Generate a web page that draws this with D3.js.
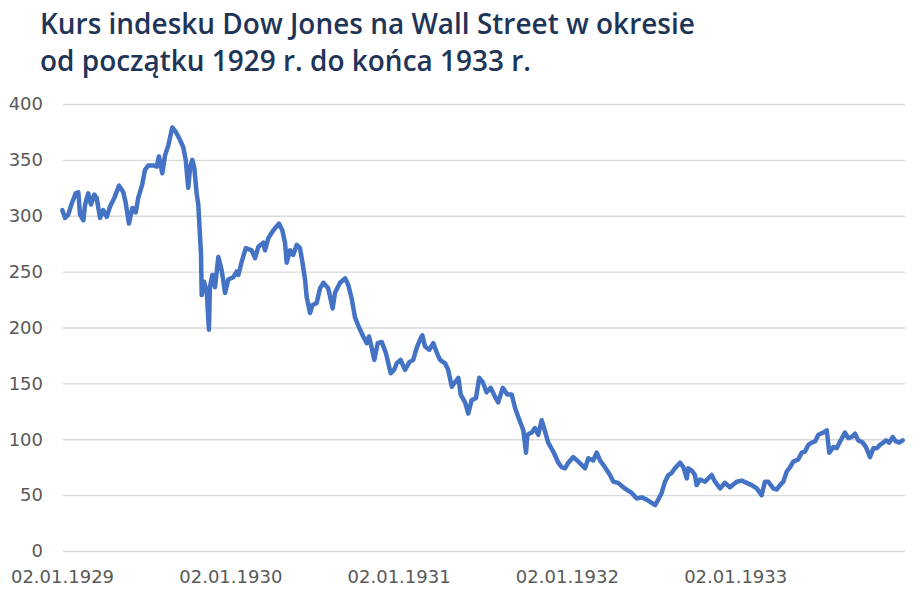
<!DOCTYPE html>
<html>
<head>
<meta charset="utf-8">
<script src="https://cdnjs.cloudflare.com/ajax/libs/d3/7.8.5/d3.min.js"></script>
<style>
  body { margin: 0; background: #fff; }
  svg { display: block; }
</style>
</head>
<body>
<div id="chart"></div>
<script>
// Dow Jones 1929-1933
var titleLines = ["Kurs indesku Dow Jones na Wall Street w okresie", "od początku 1929 r. do końca 1933 r."];

// time as decimal year (1929.0 = 02.01.1929)
var times = [
  1929.002, 1929.018, 1929.037, 1929.058, 1929.081, 1929.097, 1929.107, 1929.127, 1929.137, 1929.156,
  1929.172, 1929.192, 1929.206, 1929.226, 1929.245, 1929.266, 1929.285, 1929.311, 1929.339, 1929.364,
  1929.378, 1929.398, 1929.418, 1929.438, 1929.453, 1929.477, 1929.493, 1929.513, 1929.542, 1929.563,
  1929.576, 1929.596, 1929.612, 1929.632, 1929.655, 1929.676, 1929.701, 1929.721, 1929.735, 1929.750,
  1929.761, 1929.774, 1929.786, 1929.800, 1929.810, 1929.826, 1929.830, 1929.844, 1929.860, 1929.873,
  1929.879, 1929.893, 1929.909, 1929.929, 1929.949, 1929.969, 1929.988,
  1930.018, 1930.038, 1930.048, 1930.068, 1930.092, 1930.127, 1930.147, 1930.166, 1930.196, 1930.206,
  1930.226, 1930.256, 1930.289, 1930.309, 1930.325, 1930.335, 1930.355, 1930.374, 1930.395, 1930.414,
  1930.428, 1930.444, 1930.454, 1930.474, 1930.487, 1930.513, 1930.533, 1930.553, 1930.582, 1930.608,
  1930.622, 1930.652, 1930.682, 1930.701, 1930.721, 1930.741, 1930.765, 1930.790, 1930.811, 1930.824,
  1930.840, 1930.856, 1930.876, 1930.900, 1930.925, 1930.953, 1930.973, 1930.989,
  1931.012, 1931.038, 1931.064, 1931.087, 1931.108, 1931.127, 1931.141, 1931.157, 1931.182, 1931.206,
  1931.226, 1931.246, 1931.276, 1931.295, 1931.316, 1931.335, 1931.355, 1931.369, 1931.395, 1931.414,
  1931.434, 1931.460, 1931.479, 1931.500, 1931.523, 1931.547, 1931.573, 1931.592, 1931.619, 1931.646,
  1931.672, 1931.692, 1931.711, 1931.741, 1931.757, 1931.765, 1931.791, 1931.810, 1931.830, 1931.850,
  1931.870, 1931.889, 1931.919, 1931.949, 1931.969, 1931.989,
  1932.008, 1932.038, 1932.068, 1932.088, 1932.108, 1932.127, 1932.157, 1932.177, 1932.197, 1932.226,
  1932.256, 1932.276, 1932.305, 1932.335, 1932.355, 1932.385, 1932.415, 1932.444, 1932.474, 1932.504,
  1932.524, 1932.543, 1932.563, 1932.583, 1932.603, 1932.623, 1932.642, 1932.672, 1932.692, 1932.712,
  1932.721, 1932.742, 1932.761, 1932.771, 1932.791, 1932.821, 1932.840, 1932.860, 1932.880, 1932.910,
  1932.939, 1932.969,
  1933.009, 1933.039, 1933.068, 1933.098, 1933.128, 1933.157, 1933.177, 1933.197, 1933.226, 1933.247,
  1933.266, 1933.286, 1933.306, 1933.326, 1933.345, 1933.375, 1933.395, 1933.415, 1933.435, 1933.455,
  1933.474, 1933.494, 1933.524, 1933.544, 1933.559, 1933.583, 1933.603, 1933.623, 1933.652, 1933.672,
  1933.692, 1933.712, 1933.731, 1933.758, 1933.777, 1933.801, 1933.821, 1933.841, 1933.860, 1933.880,
  1933.896, 1933.915, 1933.936, 1933.955, 1933.975, 1933.995
];

var values = [
  305, 298, 301, 311, 320, 321, 301, 296, 310, 320,
  310, 319, 316, 298, 305, 299, 308, 316, 327, 321,
  312, 293, 307, 303, 316, 328, 341, 345, 345, 344,
  353, 338, 354, 363, 379, 375, 368, 361, 350, 325,
  343, 350, 343, 320, 310, 265, 229, 241, 232, 198,
  236, 247, 236, 263, 251, 231, 243,
  245, 250, 247, 259, 271, 269, 262, 272, 276, 269,
  280, 287, 293, 287, 276, 258, 269, 265, 274, 271,
  259, 243, 227, 213, 220, 222, 235, 240, 235, 217,
  231, 240, 244, 238, 226, 209, 200, 192, 186, 192,
  182, 171, 186, 187, 177, 159, 162, 168,
  171, 162, 169, 171, 182, 189, 193, 183, 180, 186,
  178, 171, 168, 162, 147, 151, 155, 140, 133, 123,
  135, 137, 155, 151, 142, 146, 138, 133, 146, 140,
  140, 128, 120, 108, 88, 104, 106, 110, 104, 117,
  107, 97, 89, 79, 75, 74,
  79, 84, 80, 77, 74, 83, 81, 88, 81, 75,
  68, 62, 61, 57, 55, 52, 47, 48, 46, 43,
  41, 46, 52, 62, 68, 70, 74, 79, 75, 65,
  74, 72, 68, 59, 64, 62, 65, 68, 62, 56,
  61, 57,
  62, 63, 61, 59, 56, 50, 62, 62, 56, 55,
  59, 62, 71, 75, 80, 82, 88, 89, 95, 97,
  98, 104, 106, 108, 88, 93, 92, 98, 106, 101,
  102, 105, 99, 97, 93, 84, 92, 92, 95, 97,
  99, 97, 102, 98, 97, 99
];

var yTicks = [0, 50, 100, 150, 200, 250, 300, 350, 400];
var xTicks = [1929, 1930, 1931, 1932, 1933];
var xTickLabels = ["02.01.1929", "02.01.1930", "02.01.1931", "02.01.1932", "02.01.1933"];

var width = 920, height = 599;

var svg = d3.select("#chart").append("svg")
  .attr("width", width)
  .attr("height", height)

//title, squeezed horizontally to the reference width
var title = svg.append("g")
  .attr("class", "title")

titleLines.forEach(function(t, i) {
  title.append("text")
    .attr("x", 0)
    .attr("y", 0)
    .attr("transform", "translate(40," + (34 + i * 36.5) + ")")
    .style("font-family", "'Open Sans', 'DejaVu Sans', sans-serif")
    .style("font-size", "29px")
    .style("font-weight", "600")
    .style("fill", "#1f3558")
    .text(t)
})
var firstW = title.select("text").node().getComputedTextLength()
var sx = 655 / firstW
title.selectAll("text")
  .attr("transform", function(d, i) { return "translate(40," + (34 + i * 36.5) + ") scale(" + sx + ",1)"; })

//scales
var x = d3.scaleLinear()
  .domain([1929, 1934])
  .range([62, 903.5]);

var y = d3.scaleLinear()
  .domain([0, 400])
  .range([551, 104]);

//gridlines
svg.append("g")
  .attr("class", "grid")
  .attr("transform", "translate(905,0)")
  .call(d3.axisLeft(y)
    .tickValues(yTicks)
    .tickSize(905 - 63)
    .tickFormat(""))
  .call(function(g) { g.select(".domain").remove(); })
  .selectAll("line")
  .style("stroke", "#d9d9d9")
  .style("stroke-width", "1.3px")

//y axis labels
svg.append("g")
  .attr("class", "y axis")
  .attr("transform", "translate(43,0)")
  .call(d3.axisLeft(y)
    .tickValues(yTicks)
    .tickSize(0)
    .tickPadding(0))
  .call(function(g) { g.select(".domain").remove(); })
  .selectAll("text")
  .style("font-family", "'DejaVu Sans', sans-serif")
  .style("font-size", "18px")
  .style("fill", "#595959")

//x axis labels
svg.append("g")
  .attr("class", "x axis")
  .attr("transform", "translate(0,570)")
  .call(d3.axisBottom(x)
    .tickValues(xTicks)
    .tickSize(0)
    .tickPadding(0)
    .tickFormat(function(d, i) { return xTickLabels[i]; }))
  .call(function(g) { g.select(".domain").remove(); })
  .selectAll("text")
  .style("font-family", "'DejaVu Sans', sans-serif")
  .style("font-size", "18px")
  .style("fill", "#595959")

//the line
var series = times.map(function(t, i) { return {t: t, v: values[i]}; })

svg.append("path")
  .datum(series)
  .attr("fill", "none")
  .attr("stroke", "#4472c4")
  .attr("stroke-width", 4.5)
  .attr("stroke-linejoin", "round")
  .attr("stroke-linecap", "round")
  .attr("d", d3.line()
    .x(function(d) { return x(d.t); })
    .y(function(d) { return y(d.v); }))
</script>
</body>
</html>
